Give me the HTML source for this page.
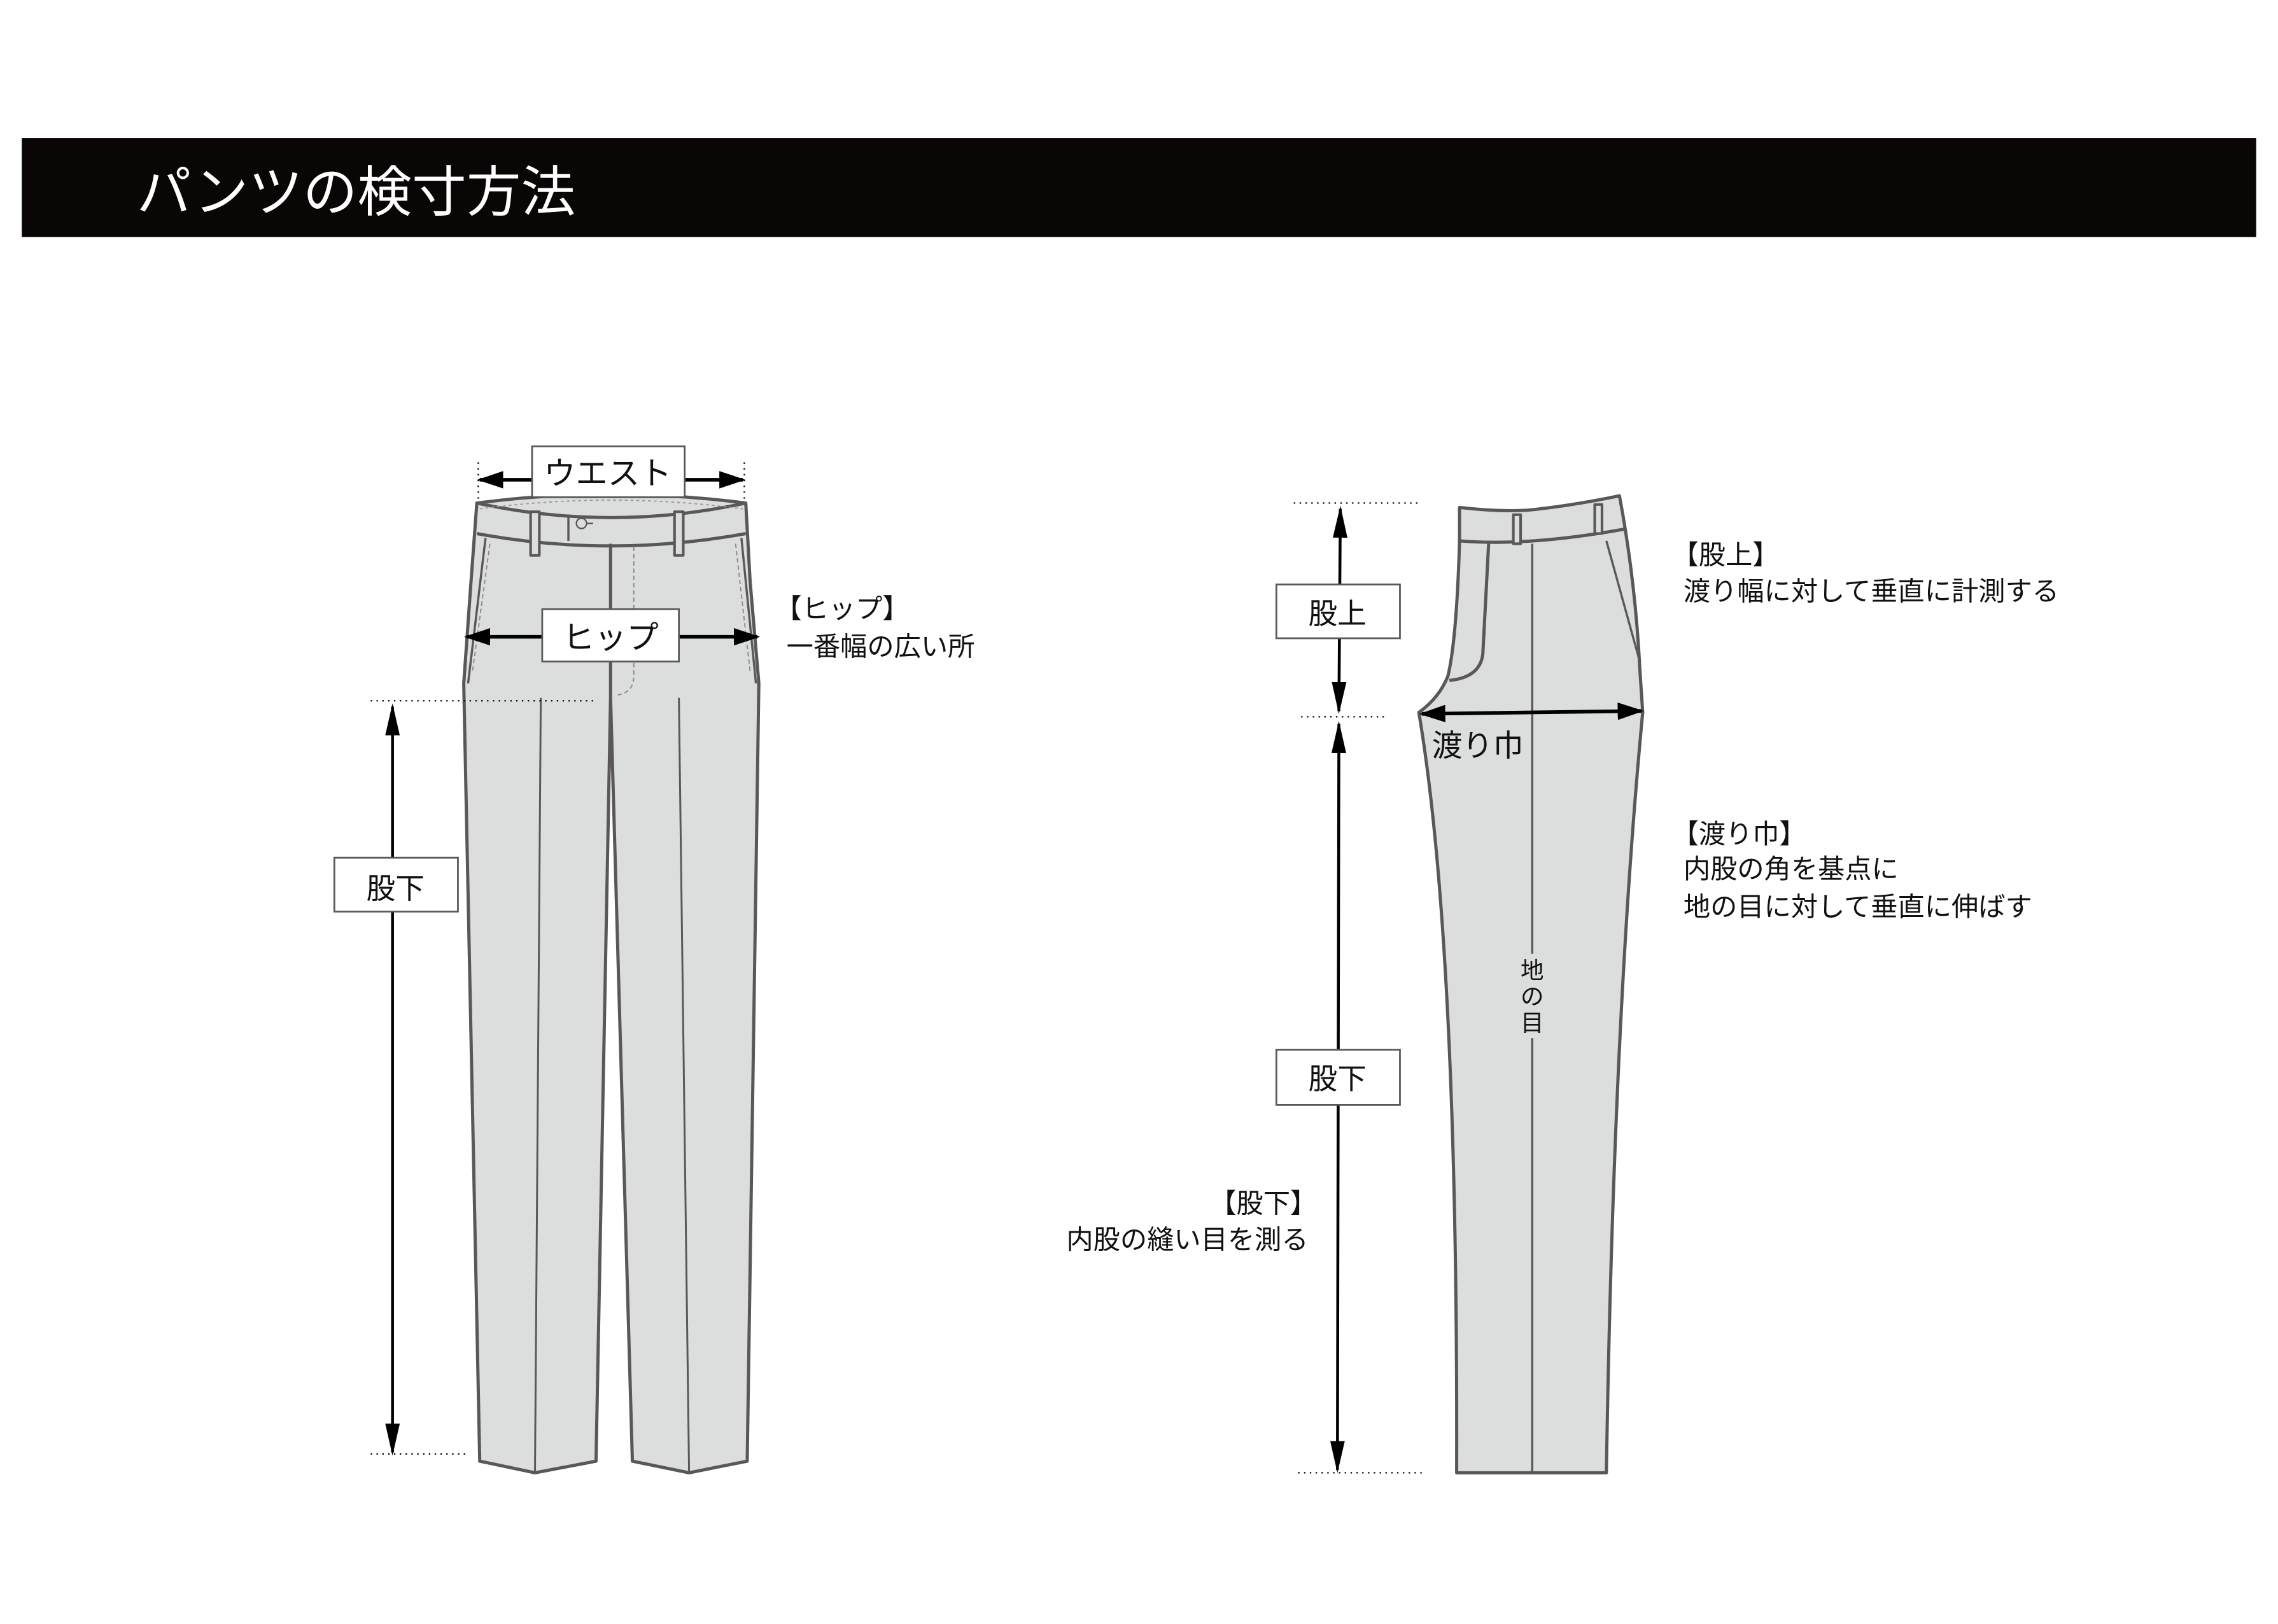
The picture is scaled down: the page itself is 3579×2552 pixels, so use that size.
<!DOCTYPE html>
<html><head><meta charset="utf-8"><style>
html,body{margin:0;padding:0;background:#fff;width:3579px;height:2552px;overflow:hidden}
svg{display:block}
text{font-family:"Liberation Sans","Noto Sans CJK JP",sans-serif;fill:#111}
</style></head><body>
<svg width="3579" height="2552" viewBox="0 0 1567 1117" preserveAspectRatio="none" xmlns="http://www.w3.org/2000/svg">
<defs>
<marker id="av" viewBox="0 0 10 10" refX="9" refY="5" markerWidth="22" markerHeight="10" orient="auto-start-reverse" markerUnits="userSpaceOnUse" preserveAspectRatio="none"><path d="M0,0 L10,5 L0,10 z" fill="#000"/></marker>
<marker id="ahh" viewBox="0 0 10 10" refX="9" refY="5" markerWidth="18" markerHeight="12" orient="auto-start-reverse" markerUnits="userSpaceOnUse" preserveAspectRatio="none"><path d="M0,0 L10,5 L0,10 z" fill="#000"/></marker>
</defs>
<rect x="15" y="95" width="1537" height="68" fill="#0a0606"/>
<text x="94" y="145" font-size="37.5" style="fill:#fff">パンツの検寸方法</text>

<!-- LEFT PANTS -->
<g stroke="#595757" stroke-width="2.2" fill="#dcdddd" stroke-linejoin="round">
<path d="M328,346 Q420,334 513,346 L516,400 L522,470 L514,1005 L474,1013 L435,1005 L420,480 L410,1005 L368,1013 L330,1005 L319,470 L324,400 Z"/>
<path d="M328,346 Q420,366 513,346" fill="none"/>
<path d="M328,367 Q420,384 513,367" fill="none"/>
<path d="M420,374 L420,480" fill="none"/>
<path d="M391,355 L391,372" fill="none" stroke-width="1.5"/>
<rect x="365" y="352" width="6" height="30" stroke-width="1.8"/>
<rect x="464" y="352" width="6" height="30" stroke-width="1.8"/>
<path d="M334,370 L322,470" fill="none" stroke-width="1.5"/>
<path d="M510,370 L520,470" fill="none" stroke-width="1.5"/>
<path d="M372,480 L368,1013 M467,480 L474,1013" fill="none" stroke-width="1.3"/>
</g>
<circle cx="400" cy="360" r="3.5" fill="none" stroke="#595757" stroke-width="1"/>
<path d="M403.5,360 L408,360" stroke="#595757"/>
<path d="M330,350 Q420,338 511,350" fill="none" stroke="#999" stroke-width="0.8" stroke-dasharray="2,2"/>
<path d="M436,376 L436,465 Q436,476 425,478" fill="none" stroke="#888" stroke-width="0.8" stroke-dasharray="3,2"/>
<path d="M337,374 L325,462 M506,374 L516,462" fill="none" stroke="#888" stroke-width="0.8" stroke-dasharray="3,2"/>

<g stroke="#000" stroke-width="1" stroke-dasharray="1,3" fill="none">
<path d="M329,318 V345 M512,318 V345"/>
<path d="M255,482 H410"/>
<path d="M255,1000 H320"/>
</g>
<line x1="330" y1="330" x2="511" y2="330" stroke="#000" stroke-width="2.5" marker-start="url(#ahh)" marker-end="url(#ahh)"/>
<line x1="321" y1="438" x2="521" y2="438" stroke="#000" stroke-width="2.5" marker-start="url(#ahh)" marker-end="url(#ahh)"/>
<line x1="270" y1="486" x2="270" y2="999" stroke="#000" stroke-width="2" marker-start="url(#av)" marker-end="url(#av)"/>
<g stroke="#595757" stroke-width="1.2" fill="#fff">
<rect x="366" y="307" width="105" height="35"/>
<rect x="373" y="419" width="94" height="36"/>
<rect x="230" y="590" width="85" height="37"/>
</g>
<text x="418" y="333" font-size="22" text-anchor="middle">ウエスト</text>
<text x="420" y="446" font-size="22" text-anchor="middle">ヒップ</text>
<text x="272" y="618" font-size="20" text-anchor="middle">股下</text>
<text x="533" y="425" font-size="18.5">【ヒップ】</text>
<text x="541" y="451" font-size="18.5">一番幅の広い所</text>

<!-- RIGHT PANTS -->
<g stroke="#595757" stroke-width="2.2" fill="#dcdddd" stroke-linejoin="round">
<path d="M1004,349 Q1030,352 1050,351 Q1080,348 1114,341 Q1125,400 1128,460 L1130,490 Q1110,700 1105,1013 L1002,1013 Q1003,650 976,490 Q990,480 996,465 Q1002,440 1004,372 Z"/>
<path d="M1004,372 Q1050,376 1117,364" fill="none"/>
<path d="M1024,374 L1020,450 Q1018,466 997,468" fill="none"/>
<path d="M1105,372 L1128,455" fill="none" stroke-width="1.5"/>
<path d="M1054,374 L1054,1013" fill="none" stroke-width="1.5"/>
<rect x="1041" y="354" width="5" height="20" stroke-width="1.8"/>
<rect x="1097" y="347" width="5" height="20" stroke-width="1.8"/>
</g>
<g stroke="#000" stroke-width="1" stroke-dasharray="1,3" fill="none">
<path d="M890,346 H978"/>
<path d="M895,493 H955"/>
<path d="M893,1013 H980"/>
</g>
<line x1="922" y1="350" x2="921" y2="489" stroke="#000" stroke-width="2" marker-start="url(#av)" marker-end="url(#av)"/>
<line x1="921" y1="498" x2="920" y2="1011" stroke="#000" stroke-width="2" marker-start="url(#av)" marker-end="url(#av)"/>
<line x1="978" y1="491" x2="1129" y2="489" stroke="#000" stroke-width="2.5" marker-start="url(#ahh)" marker-end="url(#ahh)"/>
<g stroke="#595757" stroke-width="1.2" fill="#fff">
<rect x="878" y="402" width="85" height="37"/>
<rect x="878" y="722" width="85" height="38"/>
</g>
<text x="920" y="429" font-size="20" text-anchor="middle">股上</text>
<text x="920" y="749" font-size="20" text-anchor="middle">股下</text>
<text x="985" y="520" font-size="21">渡り巾</text>
<rect x="1045" y="656" width="18" height="58" fill="#dcdddd"/>
<text x="1054" y="673" font-size="16" text-anchor="middle">地</text>
<text x="1054" y="691" font-size="16" text-anchor="middle">の</text>
<text x="1054" y="709" font-size="16" text-anchor="middle">目</text>
<text x="1150" y="388" font-size="18.5">【股上】</text>
<text x="1158" y="413" font-size="18.5">渡り幅に対して垂直に計測する</text>
<text x="1150" y="580" font-size="18.5">【渡り巾】</text>
<text x="1158" y="604" font-size="18.5">内股の角を基点に</text>
<text x="1158" y="630" font-size="18.5">地の目に対して垂直に伸ばす</text>
<text x="906" y="834" font-size="18.5" text-anchor="end">【股下】</text>
<text x="900" y="859" font-size="18.5" text-anchor="end">内股の縫い目を測る</text>
</svg>
</body></html>
